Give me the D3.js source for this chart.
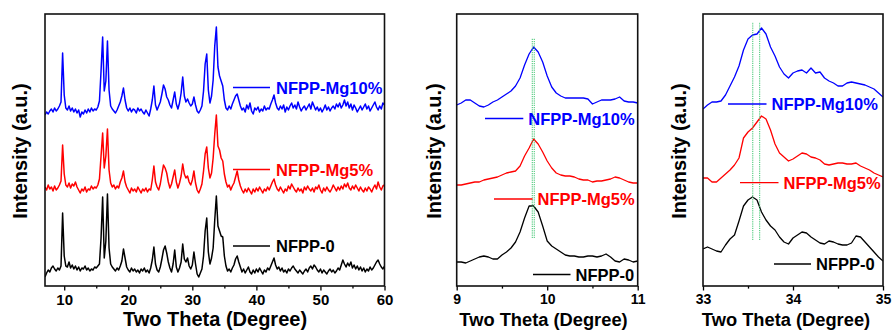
<!DOCTYPE html>
<html>
<head>
<meta charset="utf-8">
<script src="https://cdn.jsdelivr.net/npm/d3@7"></script>
<style>
  html, body { margin: 0; padding: 0; background: #fff; }
  svg { display: block; font-family: Arial, "Liberation Sans", Helvetica, sans-serif; }
</style>
</head>
<body>
<svg id="chart" width="892" height="335"></svg>
<script>
// ---- series ----
const seriesNames = ["NFPP-0", "NFPP-Mg5%", "NFPP-Mg10%"];
const seriesColors = ["#000000", "#ff0000", "#0000ff"];

// ---- full scan, 7–60° 2θ, 0.25° step (stacked intensities, a.u.) ----
const fullStart = 7, fullStep = 0.25;
const fullNFPP0 = [
  9, 13, 16, 14,   18, 20, 17, 15,   18, 16, 20, 73,   30, 20, 19, 24,
  18, 21, 17, 20,  16, 19, 15, 18,   17, 20, 16, 18,   15, 17, 16, 19,
  18, 20, 22, 48,  89, 28, 45, 92,   38, 22, 19, 17,   15, 18, 16, 20,
  25, 37, 28, 19,  16, 14, 18, 15,   17, 14, 16, 13,   17, 15, 18, 14,
  16, 13, 18, 26,  39, 22, 16, 14,   19, 27, 36, 40,   33, 24, 18, 14,
  22, 36, 19, 14,  18, 24, 42, 27,   24, 28, 20, 17,   21, 34, 22, 12,
  9, 13, 17, 30,   55, 68, 34, 22,   28, 38, 66, 90,   60, 55, 50, 49,
  30, 20, 15, 17,  14, 18, 21, 27,   30, 24, 19, 14,   17, 13, 16, 19,
  14, 12, 16, 13,  17, 14, 18, 15,   12, 16, 14, 18,   16, 20, 24, 28,
  21, 17, 19, 15,  18, 14, 16, 13,   17, 15, 18, 20,   17, 15, 13, 16,
  14, 12, 15, 17,  14, 18, 20, 17,   21, 19, 16, 14,   17, 13, 16, 14,
  12, 15, 17, 14,  16, 13, 15, 18,   16, 21, 26, 22,   19, 23, 20, 24,
  18, 21, 17, 20,  16, 19, 15, 18,   14, 17, 15, 19,   16, 18, 21, 24,
  26, 22, 19, 17,  20
];
const fullMg5 = [
  99, 96, 101, 97,    99, 95, 100, 96,    98, 101, 105, 141,  112, 101, 99, 103,
  98, 102, 100, 104,  99, 96, 93, 97,     95, 99, 94, 97,     96, 100, 97, 99,
  98, 101, 107, 130,  153, 118, 130, 157, 116, 103, 99, 101,  97, 100, 98, 104,
  108, 115, 104, 99,  96, 93, 98, 95,     97, 94, 99, 96,     93, 97, 95, 98,
  94, 97, 96, 106,    120, 104, 99, 96,   102, 112, 121, 118, 113, 104, 98, 102,
  109, 116, 104, 98,  103, 110, 122, 112, 108, 110, 104, 101, 106, 115, 103, 96,
  93, 97, 102, 115,   132, 139, 118, 108, 113, 128, 152, 171, 140, 136, 128, 125,
  112, 104, 99, 101,  96, 100, 103, 109,  115, 106, 100, 96,  93, 97, 94, 98,
  95, 92, 97, 94,     98, 95, 99, 96,     93, 97, 95, 99,     96, 100, 104, 107,
  101, 97, 95, 99,    96, 93, 97, 95,     100, 97, 102, 99,   96, 94, 98, 95,
  97, 93, 99, 96,     100, 97, 95, 98,    94, 99, 97, 101,    96, 93, 98, 95,
  99, 96, 94, 97,     101, 98, 95, 99,    96, 100, 97, 102,   99, 103, 98, 96,
  100, 97, 101, 98,   95, 99, 96, 94,     98, 95, 99, 97,     94, 98, 101, 97,
  104, 99, 96, 100,   101
];
const fullMg10 = [
  171, 174, 172, 175, 177, 174, 178, 175, 177, 180, 184, 233, 191, 178, 176, 180,
  175, 178, 174, 177, 173, 176, 169, 174, 172, 176, 173, 177, 174, 178, 175, 177,
  176, 179, 185, 215, 249, 195, 205, 245, 196, 180, 177, 175, 173, 176, 180, 184,
  190, 198, 186, 178, 175, 178, 174, 177, 176, 173, 178, 175, 177, 174, 172, 176,
  173, 170, 177, 186, 200, 181, 176, 180, 184, 192, 201, 197, 189, 186, 181, 178,
  186, 194, 182, 177, 183, 193, 209, 190, 184, 187, 183, 180, 182, 189, 181, 175,
  173, 176, 180, 195, 222, 232, 196, 183, 190, 206, 240, 259, 219, 210, 205, 200,
  186, 178, 176, 180, 177, 182, 186, 190, 192, 186, 180, 176, 178, 174, 181, 177,
  183, 175, 172, 178, 176, 179, 174, 177, 175, 180, 176, 178, 177, 182, 186, 191,
  183, 178, 176, 180, 177, 181, 174, 179, 176, 180, 183, 178, 181, 177, 184, 179,
  175, 178, 180, 176, 179, 182, 177, 184, 180, 176, 179, 175, 178, 174, 177, 181,
  176, 179, 175, 178, 180, 177, 182, 179, 183, 178, 181, 186, 180, 184, 178, 182,
  176, 181, 178, 174, 177, 180, 176, 179, 182, 177, 180, 175, 178, 181, 184, 179,
  176, 180, 177, 183, 181
];

// ---- fine scan around 9.8°, 9–11° 2θ, 0.05° step ----
const lowStart = 9, lowStep = 0.05;
const lowNFPP0 = [
  24, 24, 23, 25, 27, 29, 30, 29, 27, 27, 31, 34, 38, 44, 54, 68, 80, 80, 74, 60,
  45, 40, 37, 34, 31, 30, 30, 29, 29, 30, 30, 29, 30, 32, 29, 25, 24, 27, 26, 24, 25
];
const lowMg5 = [
  101, 101, 102, 103, 104, 104, 106, 107, 108, 109, 111, 113, 114, 115, 120, 130, 138, 147, 142, 134,
  125, 118, 113, 111, 110, 110, 109, 107, 106, 106, 104, 105, 105, 106, 107, 109, 108, 106, 104, 103, 103
];
const lowMg10 = [
  181, 183, 186, 186, 183, 180, 179, 181, 184, 186, 189, 192, 195, 200, 208, 221, 232, 239, 234, 224,
  210, 199, 193, 190, 188, 188, 188, 188, 188, 187, 182, 184, 186, 186, 186, 187, 189, 185, 184, 184, 183
];

// ---- fine scan around 33.6°, 33–35° 2θ, 0.05° step ----
const highStart = 33, highStep = 0.05;
const highNFPP0 = [
  37, 39, 37, 35, 34, 41, 47, 51, 65, 80, 86, 89, 86, 74, 66, 60, 56, 49, 44, 42,
  48, 51, 54, 53, 49, 46, 43, 42, 45, 44, 42, 41, 41, 43, 50, 49, 44, 39, 34, 29, 25
];
const highMg5 = [
  108, 108, 104, 104, 108, 112, 116, 121, 128, 148, 154, 158, 164, 170, 167, 156, 142, 133, 129, 125,
  127, 130, 133, 132, 129, 128, 126, 122, 121, 122, 123, 123, 122, 122, 123, 120, 118, 116, 113, 111, 109
];
const highMg10 = [
  177, 181, 184, 184, 185, 191, 200, 209, 220, 236, 247, 251, 252, 258, 252, 239, 230, 219, 212, 208,
  213, 215, 216, 213, 218, 213, 214, 208, 205, 203, 200, 200, 203, 204, 203, 202, 201, 199, 197, 193, 189
];

// ---- axis ticks ----
const fullTicks = [10, 20, 30, 40, 50, 60];
const fullMinorTicks = [15, 25, 35, 45, 55];
const lowTicks = [9, 10, 11];
const lowMinorTicks = [9.5, 10.5];
const highTicks = [33, 34, 35];
const highMinorTicks = [33.5, 34.5];

// ---- peak-position guides (2θ) and their vertical span (a.u.) ----
const lowGuides = [9.835, 9.857];
const lowGuideSpan = [48, 248];
const highGuides = [33.553, 33.63];
const highGuideSpan = [46, 264];

const yDomain = [0, 272];
const axisTitle = "Two Theta (Degree)";
const yTitle = "Intensity (a.u.)";

// ---- layout ----
const plotTop = 14, plotBottom = 286;

const panels = [
  {
    id: "full", domain: [7, 60], x0: 45, x1: 384.5,
    start: fullStart, step: fullStep, series: [fullNFPP0, fullMg5, fullMg10],
    ticks: fullTicks, minor: fullMinorTicks, tickFont: 15, titleFont: 20,
    titleX: 215, yTitleX: 20, lineWidth: 1.5,
    legend: [
      { s: 2, x0: 233, x1: 270, y: 87.5 },
      { s: 1, x0: 233, x1: 270, y: 169.5 },
      { s: 0, x0: 233, x1: 270, y: 246 }
    ], legendGap: 6
  },
  {
    id: "low", domain: [9, 11], x0: 456.7, x1: 637.7,
    start: lowStart, step: lowStep, series: [lowNFPP0, lowMg5, lowMg10],
    ticks: lowTicks, minor: lowMinorTicks, tickFont: 14, titleFont: 18.3,
    titleX: 543.5, yTitleX: 433.5, lineWidth: 1.3,
    guides: lowGuides, guideSpan: lowGuideSpan,
    legend: [
      { s: 2, x0: 485, x1: 523.3, y: 118.5 },
      { s: 1, x0: 494, x1: 532.5, y: 199 },
      { s: 0, x0: 533, x1: 570.5, y: 274.5 }
    ], legendGap: 5
  },
  {
    id: "high", domain: [33, 35], x0: 703, x1: 883,
    start: highStart, step: highStep, series: [highNFPP0, highMg5, highMg10],
    ticks: highTicks, minor: highMinorTicks, tickFont: 14, titleFont: 18.3,
    titleX: 786, yTitleX: 678.5, lineWidth: 1.3,
    guides: highGuides, guideSpan: highGuideSpan,
    legend: [
      { s: 2, x0: 728, x1: 766.5, y: 104 },
      { s: 1, x0: 740, x1: 778.5, y: 182.7 },
      { s: 0, x0: 774, x1: 811, y: 264 }
    ], legendGap: 5
  }
];

const svg = d3.select("#chart");
const defs = svg.append("defs");

panels.forEach(p => {
  const x = d3.scaleLinear().domain(p.domain).range([p.x0, p.x1]);
  const y = d3.scaleLinear().domain(yDomain).range([plotBottom, plotTop]);
  const g = svg.append("g").attr("class", "panel-" + p.id);

  defs.append("clipPath").attr("id", "clip-" + p.id)
    .append("rect")
    .attr("x", p.x0).attr("y", plotTop)
    .attr("width", p.x1 - p.x0).attr("height", plotBottom - plotTop);

  // diffraction patterns
  const line = d3.line()
    .x((d, i) => x(p.start + i * p.step))
    .y(d => y(d));

  const plot = g.append("g").attr("clip-path", `url(#clip-${p.id})`);
  p.series.forEach((vals, si) => {
    plot.append("path")
      .datum(vals)
      .attr("fill", "none")
      .attr("stroke", seriesColors[si])
      .attr("stroke-width", p.lineWidth)
      .attr("stroke-linejoin", "round")
      .attr("d", line);
  });

  // dotted guides marking the main peak positions
  if (p.guides) {
    plot.selectAll("line.guide")
      .data(p.guides)
      .join("line")
      .attr("class", "guide")
      .attr("x1", d => x(d)).attr("x2", d => x(d))
      .attr("y1", y(p.guideSpan[0])).attr("y2", y(p.guideSpan[1]))
      .attr("stroke", "#3cc46e")
      .attr("stroke-width", 1)
      .attr("stroke-dasharray", "1.2,1");
  }

  // legend entries
  p.legend.forEach(l => {
    g.append("line")
      .attr("x1", l.x0).attr("x2", l.x1)
      .attr("y1", l.y).attr("y2", l.y)
      .attr("stroke", seriesColors[l.s])
      .attr("stroke-width", 1.3);
    g.append("text")
      .attr("x", l.x1 + p.legendGap)
      .attr("y", l.y + 6)
      .attr("fill", seriesColors[l.s])
      .attr("font-size", 16.5)
      .attr("font-weight", "bold")
      .text(seriesNames[l.s]);
  });

  // x axis: major and minor ticks
  const major = d3.axisBottom(x)
    .tickValues(p.ticks)
    .tickFormat(d3.format("d"))
    .tickSize(4.5)
    .tickSizeOuter(0)
    .tickPadding(4);
  const axG = g.append("g")
    .attr("transform", `translate(0,${plotBottom})`)
    .call(major);
  axG.select(".domain").remove();
  axG.selectAll(".tick line").attr("stroke", "#000").attr("stroke-width", 1.3);
  axG.selectAll(".tick text")
    .attr("fill", "#000")
    .attr("font-size", p.tickFont)
    .attr("font-weight", "bold")
    .attr("font-family", "Arial, 'Liberation Sans', sans-serif");

  const minor = d3.axisBottom(x)
    .tickValues(p.minor)
    .tickFormat("")
    .tickSize(2.6)
    .tickSizeOuter(0);
  const mnG = g.append("g")
    .attr("transform", `translate(0,${plotBottom})`)
    .call(minor);
  mnG.select(".domain").remove();
  mnG.selectAll(".tick line").attr("stroke", "#000").attr("stroke-width", 1.3);

  // frame
  g.append("rect")
    .attr("x", p.x0).attr("y", plotTop)
    .attr("width", p.x1 - p.x0).attr("height", plotBottom - plotTop)
    .attr("fill", "none")
    .attr("stroke", "#111")
    .attr("stroke-width", 1.6);

  // axis titles
  g.append("text")
    .attr("x", p.titleX).attr("y", 326)
    .attr("text-anchor", "middle")
    .attr("font-size", p.titleFont)
    .attr("font-weight", "bold")
    .attr("fill", "#000")
    .text(axisTitle);

  g.append("text")
    .attr("transform", `translate(${p.yTitleX},151) rotate(-90)`)
    .attr("text-anchor", "middle")
    .attr("dominant-baseline", "central")
    .attr("font-size", 20)
    .attr("font-weight", "bold")
    .attr("fill", "#000")
    .text(yTitle);
});
</script>
</body>
</html>
